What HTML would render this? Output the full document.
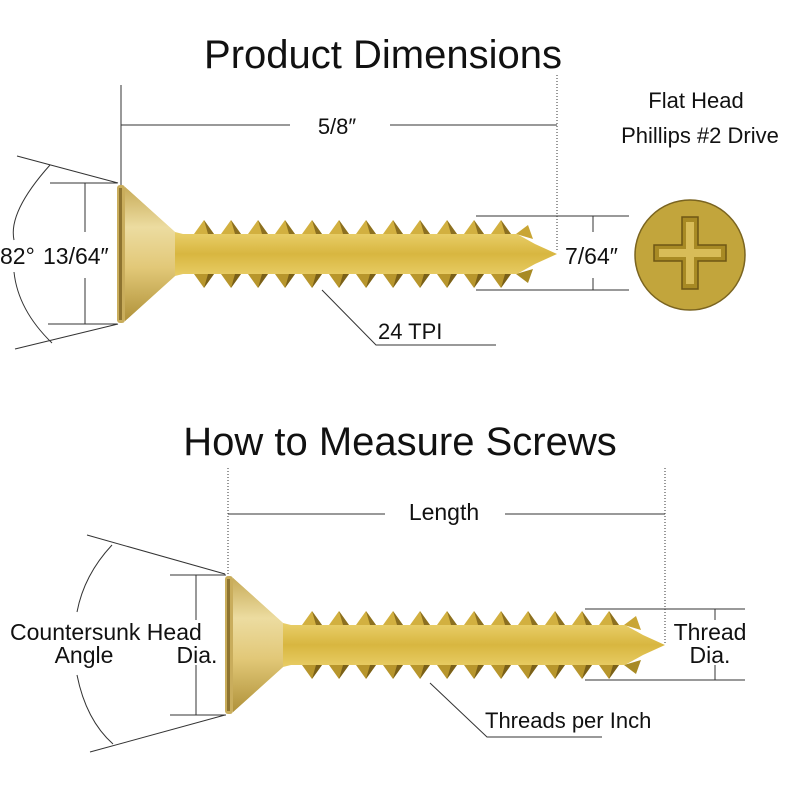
<!DOCTYPE html>
<html><head><meta charset="utf-8"><style>
html,body{margin:0;padding:0;background:#fff;}
svg{display:block;}
text{font-family:"Liberation Sans","DejaVu Sans",sans-serif;fill:#111;}
</style></head><body>
<svg width="800" height="800" viewBox="0 0 800 800" xmlns="http://www.w3.org/2000/svg">
<defs>
<linearGradient id="sh" x1="0" y1="0" x2="0" y2="1">
<stop offset="0" stop-color="#a8861c"/><stop offset="0.25" stop-color="#f2dc80"/><stop offset="0.5" stop-color="#d8b640"/><stop offset="0.75" stop-color="#f0d878"/><stop offset="1" stop-color="#9a7a18"/>
</linearGradient>
<linearGradient id="hd" x1="0" y1="0" x2="0" y2="1">
<stop offset="0" stop-color="#c8ac5a"/><stop offset="0.3" stop-color="#ecdca0"/><stop offset="0.6" stop-color="#e2c878"/><stop offset="1" stop-color="#b0923a"/>
</linearGradient>
<pattern id="tt" x="75" y="-34" width="27" height="14" patternUnits="userSpaceOnUse">
<polygon points="2,14 12,0 22,14" fill="#d2b040"/><polygon points="12,0 22,14 16,14" fill="#8c7020"/>
</pattern>
<pattern id="tb" x="75" y="20" width="27" height="14" patternUnits="userSpaceOnUse">
<polygon points="2,0 12,14 22,0" fill="#b8962c"/><polygon points="12,14 22,0 16,0" fill="#7a6018"/>
</pattern>
<g id="screw">
<rect x="75" y="-34" width="324" height="14" fill="url(#tt)"/>
<rect x="75" y="20" width="324" height="14" fill="url(#tb)"/>
<polygon points="399,-20 411,-29 416,-15" fill="#c9a534"/>
<polygon points="399,20 411,29 416,15" fill="#a88a24"/>
<path d="M8,-67 L58,-22 L66,-20 L400,-20 L418,-10 L440,0 L418,10 L400,20 L66,20 L58,22 L8,67 Z" fill="url(#sh)"/>
<path d="M8,-67 L58,-22 L58,22 L8,67 Z" fill="url(#hd)"/>
<rect x="0" y="-69" width="8" height="138" rx="3" fill="#c9ad5c"/>
<rect x="2" y="-66" width="3" height="132" fill="#8e7430"/>
</g>
</defs>

<!-- TOP -->
<text x="383" y="68" font-size="40" text-anchor="middle">Product Dimensions</text>
<text x="696" y="108" font-size="22" text-anchor="middle">Flat Head</text>
<text x="700" y="143" font-size="22" text-anchor="middle">Phillips #2 Drive</text>

<g stroke="#333" stroke-width="1" fill="none">
<line x1="121" y1="85" x2="121" y2="185"/>
<line x1="121" y1="125" x2="290" y2="125"/>
<line x1="390" y1="125" x2="557" y2="125"/>
<line x1="557" y1="75" x2="557" y2="252" stroke-dasharray="1,2"/>
<line x1="50" y1="183" x2="117" y2="183"/>
<line x1="48" y1="324" x2="117" y2="324"/>
<line x1="85" y1="183" x2="85" y2="232"/>
<line x1="85" y1="278" x2="85" y2="324"/>
<line x1="17" y1="156" x2="118" y2="183"/>
<line x1="15" y1="349" x2="118" y2="324"/>
<path d="M50,165 Q8,212 14,240"/>
<path d="M14,272 Q18,310 52,343"/>
<line x1="476" y1="216" x2="629" y2="216"/>
<line x1="476" y1="290" x2="629" y2="290"/>
<line x1="593" y1="216" x2="593" y2="232"/>
<line x1="593" y1="278" x2="593" y2="290"/>
<polyline points="322,290 376,345 496,345"/>
</g>
<text x="337" y="134" font-size="22" text-anchor="middle">5/8″</text>
<text x="0" y="264" font-size="23">82°</text>
<text x="43" y="264" font-size="23">13/64″</text>
<text x="565" y="264" font-size="23">7/64″</text>
<text x="378" y="339" font-size="22">24 TPI</text>

<use href="#screw" x="117" y="254"/>

<circle cx="690" cy="255" r="55" fill="#c2a53c" stroke="#7a6420" stroke-width="1.5"/>
<path d="M682,217 h16 v28 h28 v16 h-28 v28 h-16 v-28 h-28 v-16 h28 z" fill="#a88a24" stroke="#6e5614" stroke-width="1.5"/>
<path d="M686,222 h8 v27 h27 v8 h-27 v27 h-8 v-27 h-27 v-8 h27 z" fill="#d8bc58"/>

<!-- BOTTOM -->
<text x="400" y="455" font-size="40" text-anchor="middle">How to Measure Screws</text>
<g stroke="#333" stroke-width="1" fill="none">
<line x1="228" y1="468" x2="228" y2="578" stroke-dasharray="1,2"/>
<line x1="228" y1="514" x2="385" y2="514"/>
<line x1="505" y1="514" x2="665" y2="514"/>
<line x1="665" y1="468" x2="665" y2="645" stroke-dasharray="1,2"/>
<line x1="170" y1="575" x2="226" y2="575"/>
<line x1="170" y1="715" x2="226" y2="715"/>
<line x1="196" y1="575" x2="196" y2="620"/>
<line x1="196" y1="665" x2="196" y2="715"/>
<line x1="87" y1="535" x2="225" y2="574"/>
<line x1="90" y1="752" x2="225" y2="715"/>
<path d="M112,545 Q84,575 77,612"/>
<path d="M77,675 Q86,720 113,744"/>
<line x1="585" y1="609" x2="745" y2="609"/>
<line x1="585" y1="680" x2="745" y2="680"/>
<line x1="715" y1="609" x2="715" y2="620"/>
<line x1="715" y1="665" x2="715" y2="680"/>
<polyline points="430,683 487,737 602,737"/>
</g>
<text x="444" y="520" font-size="23" text-anchor="middle">Length</text>
<text x="10" y="640" font-size="23">Countersunk Head</text>
<text x="84" y="663" font-size="23" text-anchor="middle">Angle</text>
<text x="197" y="663" font-size="23" text-anchor="middle">Dia.</text>
<text x="710" y="640" font-size="23" text-anchor="middle">Thread</text>
<text x="710" y="663" font-size="23" text-anchor="middle">Dia.</text>
<text x="485" y="728" font-size="22">Threads per Inch</text>

<use href="#screw" x="225" y="645"/>
</svg>
</body></html>
